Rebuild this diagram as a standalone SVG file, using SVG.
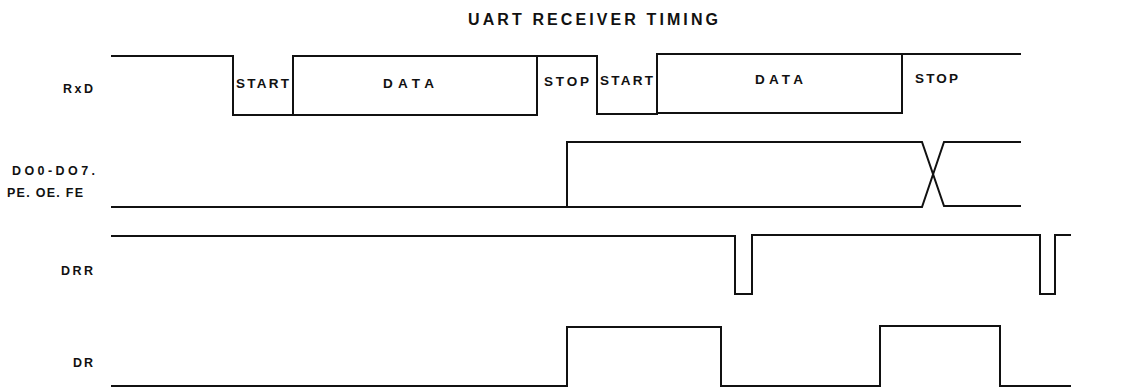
<svg xmlns="http://www.w3.org/2000/svg" width="1134" height="388" viewBox="0 0 1134 388">
  <style>
    .bg { fill: #ffffff; }
    .wave { fill: none; stroke: #111111; stroke-width: 2; stroke-linejoin: miter; stroke-linecap: square; }
    .title { font-family: "Liberation Sans", Arial, sans-serif; font-size: 16px; font-weight: bold; fill: #111111; }
    .sig { font-family: "Liberation Sans", Arial, sans-serif; font-size: 12.5px; font-weight: bold; fill: #111111; }
    .lbl { font-family: "Liberation Sans", Arial, sans-serif; font-size: 13.5px; font-weight: bold; fill: #111111; }
  </style>
  <rect class="bg" x="0" y="0" width="1134" height="388"/>

  <g id="title">
    <text class="title" x="468" y="25" textLength="250" lengthAdjust="spacing">UART RECEIVER TIMING</text>
  </g>

  <g id="signal-labels">
    <text class="sig" x="63" y="93" textLength="30" lengthAdjust="spacing">RxD</text>
    <text class="sig" x="12" y="175" textLength="83" lengthAdjust="spacing">DO0-DO7.</text>
    <text class="sig" x="7" y="197" textLength="76" lengthAdjust="spacing">PE. OE. FE</text>
    <text class="sig" x="61" y="275" textLength="32" lengthAdjust="spacing">DRR</text>
    <text class="sig" x="73" y="367" textLength="20" lengthAdjust="spacing">DR</text>
  </g>

  <g id="rxd">
    <path class="wave" d="M112,56 H233 V115 H293 V56 H597 V114 H657 V54 H1020"/>
    <path class="wave" d="M293,115 H537 V56"/>
    <path class="wave" d="M657,113 H902 V54"/>
    <text class="lbl" x="236" y="88" textLength="53" lengthAdjust="spacing">START</text>
    <text class="lbl" x="383" y="88" textLength="51" lengthAdjust="spacing">DATA</text>
    <text class="lbl" x="544" y="86" textLength="45" lengthAdjust="spacing">STOP</text>
    <text class="lbl" x="600" y="85" textLength="53" lengthAdjust="spacing">START</text>
    <text class="lbl" x="755" y="84" textLength="48" lengthAdjust="spacing">DATA</text>
    <text class="lbl" x="915" y="83" textLength="43" lengthAdjust="spacing">STOP</text>
  </g>

  <g id="do-bus">
    <path class="wave" d="M112,207 H922 L944,142 H1020"/>
    <path class="wave" d="M567,207 V142 H922 L944,206 H1020"/>
  </g>

  <g id="drr">
    <path class="wave" d="M112,236 H735 V294 H752 V235 H1040 V294 H1055 V235 H1070"/>
  </g>

  <g id="dr">
    <path class="wave" d="M112,386 H567 V327 H721 V386 H880 V326 H1000 V386 H1070"/>
  </g>

  <g id="connectors"></g>
</svg>
